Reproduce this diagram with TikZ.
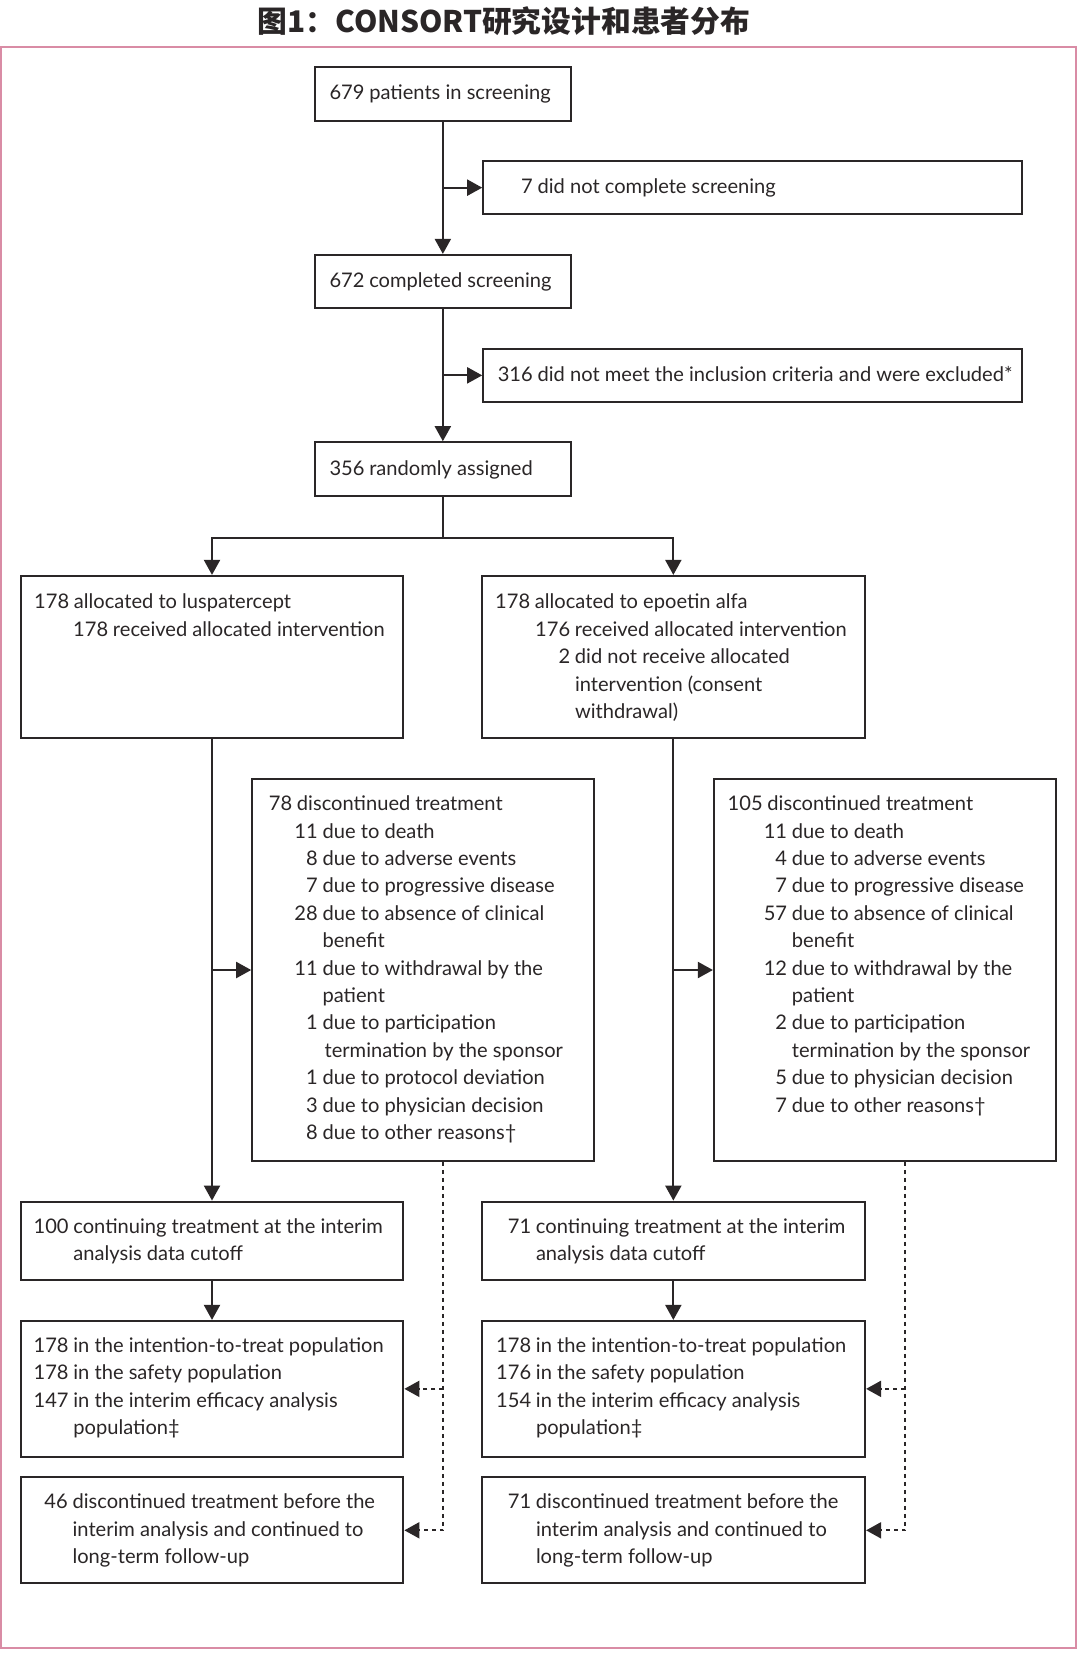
\documentclass[tikz,border=0pt]{standalone}
\usepackage{fontspec}
\setmainfont{Lato}
\newfontfamily\cjk{Noto Sans CJK SC}
\usetikzlibrary{arrows.meta,fit}
\definecolor{ink}{HTML}{2A2627}
\definecolor{rim}{HTML}{D98CA5}
\newcommand\lin[3]{\makebox[#1][r]{#2\hspace{2.4pt}}#3}
\newcommand\ctd[2]{\hspace*{#1}#2}
\newcommand\rows[1]{\begin{tabular}[t]{@{}l@{}}#1\end{tabular}}

\begin{document}
\begin{tikzpicture}[x=0.5pt,y=-0.5pt,
    box/.style={draw=ink, line width=1.1pt, inner sep=0pt},
    txt/.style={anchor=base west, inner sep=0pt, text=ink, font=\fontsize{10.05}{13.7}\selectfont},
    lnk/.style={draw=ink, line width=1pt},
    arr/.style={lnk, -{Triangle[length=7.5pt,width=8pt]}},
    dsh/.style={arr, dash pattern=on 2pt off 2pt}]
    \useasboundingbox (0,0) rectangle (1080,1655);
    \fill[white] (0,0) rectangle (1080,1655);
    \draw[rim, line width=1pt] (1,46.7) rectangle (1076,1648);
    \node[font=\cjk\bfseries\fontsize{14.9}{18}\selectfont, text=ink] (title) at (504,21) {图1：CONSORT研究设计和患者分布};

    \node[box, fit={(315,66.7) (570.7,120.7)}] (screen) {};
    \node[box, fit={(483.3,161) (1021.7,214.3)}] (nocomp) {};
    \node[box, fit={(315,255) (570.7,308.3)}] (compl) {};
    \node[box, fit={(483.3,349) (1021.7,401.7)}] (excl) {};
    \node[box, fit={(315,442.3) (570.7,496)}] (rand) {};
    \node[box, fit={(20.7,576) (403.3,738.3)}] (allocL) {};
    \node[box, fit={(481.7,576) (865,738.3)}] (allocR) {};
    \node[box, fit={(252.3,779.3) (594.3,1160.7)}] (discL) {};
    \node[box, fit={(714,779.3) (1056,1160.7)}] (discR) {};
    \node[box, fit={(20.7,1201.7) (403.3,1280)}] (contL) {};
    \node[box, fit={(481.7,1201.7) (865,1280)}] (contR) {};
    \node[box, fit={(20.7,1321) (403.3,1456.7)}] (ittL) {};
    \node[box, fit={(481.7,1321) (865,1456.7)}] (ittR) {};
    \node[box, fit={(20.7,1477.3) (403.3,1583.3)}] (fuL) {};
    \node[box, fit={(481.7,1477.3) (865,1583.3)}] (fuR) {};

    \node[txt] (screenT) at ([shift={(0,34)}]screen.north west) {\rows{\lin{27.5pt}{679}{patients in screening}}};
    \node[txt] (nocompT) at ([shift={(0,34)}]nocomp.north west) {\rows{\lin{27.5pt}{7}{did not complete screening}}};
    \node[txt] (complT) at ([shift={(0,34)}]compl.north west) {\rows{\lin{27.5pt}{672}{completed screening}}};
    \node[txt] (exclT) at ([shift={(0,34)}]excl.north west) {\rows{\lin{27.5pt}{316}{did not meet the inclusion criteria and were excluded*}}};
    \node[txt] (randT) at ([shift={(0,34)}]rand.north west) {\rows{\lin{27.5pt}{356}{randomly assigned}}};
    \node[txt] (allocLT) at ([shift={(0,34)}]allocL.north west) {\rows{
        \lin{27pt}{178}{allocated to luspatercept}\\
        \lin{46.5pt}{178}{received allocated intervention}}};
    \node[txt] (allocRT) at ([shift={(0,34)}]allocR.north west) {\rows{
        \lin{27pt}{178}{allocated to epoetin alfa}\\
        \lin{47pt}{176}{received allocated intervention}\\
        \lin{47pt}{2}{did not receive allocated}\\
        \ctd{47pt}{intervention (consent}\\
        \ctd{47pt}{withdrawal)}}};
    \node[txt] (discLT) at ([shift={(0,32.5)}]discL.north west) {\rows{
        \lin{22.7pt}{78}{discontinued treatment}\\
        \lin{35.5pt}{11}{due to death}\\
        \lin{35.5pt}{8}{due to adverse events}\\
        \lin{35.5pt}{7}{due to progressive disease}\\
        \lin{35.5pt}{28}{due to absence of clinical}\\
        \ctd{35.5pt}{benefit}\\
        \lin{35.5pt}{11}{due to withdrawal by the}\\
        \ctd{35.5pt}{patient}\\
        \lin{35.5pt}{1}{due to participation}\\
        \ctd{36.5pt}{termination by the sponsor}\\
        \lin{35.5pt}{1}{due to protocol deviation}\\
        \lin{35.5pt}{3}{due to physician decision}\\
        \lin{35.5pt}{8}{due to other reasons†}}};
    \node[txt] (discRT) at ([shift={(0,32.5)}]discR.north west) {\rows{
        \lin{27.1pt}{105}{discontinued treatment}\\
        \lin{39.3pt}{11}{due to death}\\
        \lin{39.3pt}{4}{due to adverse events}\\
        \lin{39.3pt}{7}{due to progressive disease}\\
        \lin{39.3pt}{57}{due to absence of clinical}\\
        \ctd{39.3pt}{benefit}\\
        \lin{39.3pt}{12}{due to withdrawal by the}\\
        \ctd{39.3pt}{patient}\\
        \lin{39.3pt}{2}{due to participation}\\
        \ctd{39.3pt}{termination by the sponsor}\\
        \lin{39.3pt}{5}{due to physician decision}\\
        \lin{39.3pt}{7}{due to other reasons†}}};
    \node[txt] (contLT) at ([shift={(0,32.5)}]contL.north west) {\rows{
        \lin{26.7pt}{100}{continuing treatment at the interim}\\
        \ctd{26.7pt}{analysis data cutoff}}};
    \node[txt] (contRT) at ([shift={(0,32.5)}]contR.north west) {\rows{
        \lin{27.5pt}{71}{continuing treatment at the interim}\\
        \ctd{27.5pt}{analysis data cutoff}}};
    \node[txt] (ittLT) at ([shift={(0,32.5)}]ittL.north west) {\rows{
        \lin{26.7pt}{178}{in the intention-to-treat population}\\
        \lin{26.7pt}{178}{in the safety population}\\
        \lin{26.7pt}{147}{in the interim efficacy analysis}\\
        \ctd{26.7pt}{population‡}}};
    \node[txt] (ittRT) at ([shift={(0,32.5)}]ittR.north west) {\rows{
        \lin{27.5pt}{178}{in the intention-to-treat population}\\
        \lin{27.5pt}{176}{in the safety population}\\
        \lin{27.5pt}{154}{in the interim efficacy analysis}\\
        \ctd{27.5pt}{population‡}}};
    \node[txt] (fuLT) at ([shift={(0,32.5)}]fuL.north west) {\rows{
        \lin{26.3pt}{46}{discontinued treatment before the}\\
        \ctd{26.3pt}{interim analysis and continued to}\\
        \ctd{26.3pt}{long-term follow-up}}};
    \node[txt] (fuRT) at ([shift={(0,32.5)}]fuR.north west) {\rows{
        \lin{27.5pt}{71}{discontinued treatment before the}\\
        \ctd{27.5pt}{interim analysis and continued to}\\
        \ctd{27.5pt}{long-term follow-up}}};

    \coordinate (split) at ([yshift=-20.25pt]rand.south);
    \coordinate (dl) at ([xshift=10pt]discL.south);
    \coordinate (dr) at ([xshift=10pt]discR.south);

    \draw[arr] (screen) -- (compl);
    \draw[arr] (screen.south |- nocomp.west) -- (nocomp);
    \draw[arr] (compl) -- (rand);
    \draw[arr] (compl.south |- excl.west) -- (excl);
    \draw[lnk] (rand) -- (split);
    \draw[arr] (split) -| (allocL);
    \draw[arr] (split) -| (allocR);
    \draw[arr] (allocL) -- (contL);
    \draw[arr] (allocL.south |- discL.west) -- (discL);
    \draw[arr] (allocR) -- (contR);
    \draw[arr] (allocR.south |- discR.west) -- (discR);
    \draw[arr] (contL) -- (ittL);
    \draw[arr] (contR) -- (ittR);
    \draw[dsh] (dl) |- (fuL);
    \draw[dsh] (dl |- ittL.east) -- (ittL);
    \draw[dsh] (dr) |- (fuR);
    \draw[dsh] (dr |- ittR.east) -- (ittR);
\end{tikzpicture}
\end{document}
